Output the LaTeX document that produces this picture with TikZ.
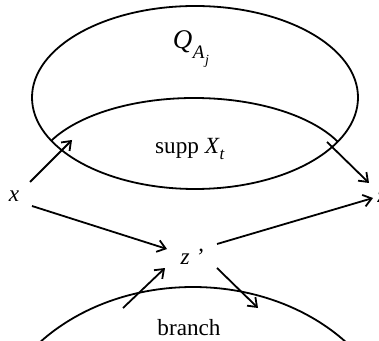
\documentclass[tikz,border=0pt]{standalone}
\usepackage{fontspec}
\setmainfont{Liberation Serif}
\usetikzlibrary{arrows.meta}
\begin{document}
\begin{tikzpicture}[x=0.5pt,y=-0.5pt,line width=0.9pt,
  arr/.style={-{Straight Barb[length=4pt,width=6pt,line width=0.9pt]}},
  lbl/.style={inner sep=0pt,font=\fontsize{11.6}{14}\selectfont}]
\useasboundingbox (0,0) rectangle (379,341);
\clip (0,0) rectangle (379,341);
% outer ellipse
\draw (195,97.5) ellipse [x radius=81.5pt, y radius=45.75pt];
% inner arc (supp X_t)
\begin{scope}
  \clip (195,97.5) ellipse [x radius=81.5pt, y radius=45.75pt];
  \draw (194,176) ellipse [x radius=80pt, y radius=39pt];
\end{scope}
% branch arc
\draw (193,452) ellipse [x radius=102.5pt, y radius=82.5pt];
% labels
\node[lbl] (Q) at (191,49) {\fontsize{13.5}{15}\selectfont\textit{Q}\kern0.3pt\raisebox{-0.35em}{\fontsize{9.5}{10}\selectfont\textit{A}\kern0.3pt\raisebox{-0.3em}{\fontsize{7}{8}\selectfont\textit{j}}}};
\node[lbl] (S) at (190,149) {supp \textit{X}\raisebox{-0.3em}{\fontsize{8.5}{9}\selectfont\textit{t}}};
\node[lbl] (x) at (14,196) {\textit{x}};
\node[lbl] (z) at (382,197) {\textit{z}};
\node[lbl] (zp) at (192,257) {\textit{z ’}};
\node[lbl] (B) at (189,328) {branch};
% arrow end points
\coordinate (a1s) at (30,182); \coordinate (a1e) at (72,140);
\coordinate (a2s) at (32,206); \coordinate (a2e) at (167,249);
\coordinate (a3s) at (217,244); \coordinate (a3e) at (373,198);
\coordinate (a4s) at (327,142); \coordinate (a4e) at (369,183);
\coordinate (a5s) at (123,308); \coordinate (a5e) at (165,268);
\coordinate (a6s) at (217,268); \coordinate (a6e) at (258,308);
\draw[arr] (a1s) -- (a1e);
\draw[arr] (a2s) -- (a2e);
\draw[arr] (a3s) -- (a3e);
\draw[arr] (a4s) -- (a4e);
\draw[arr] (a5s) -- (a5e);
\draw[arr] (a6s) -- (a6e);
\end{tikzpicture}
\end{document}
